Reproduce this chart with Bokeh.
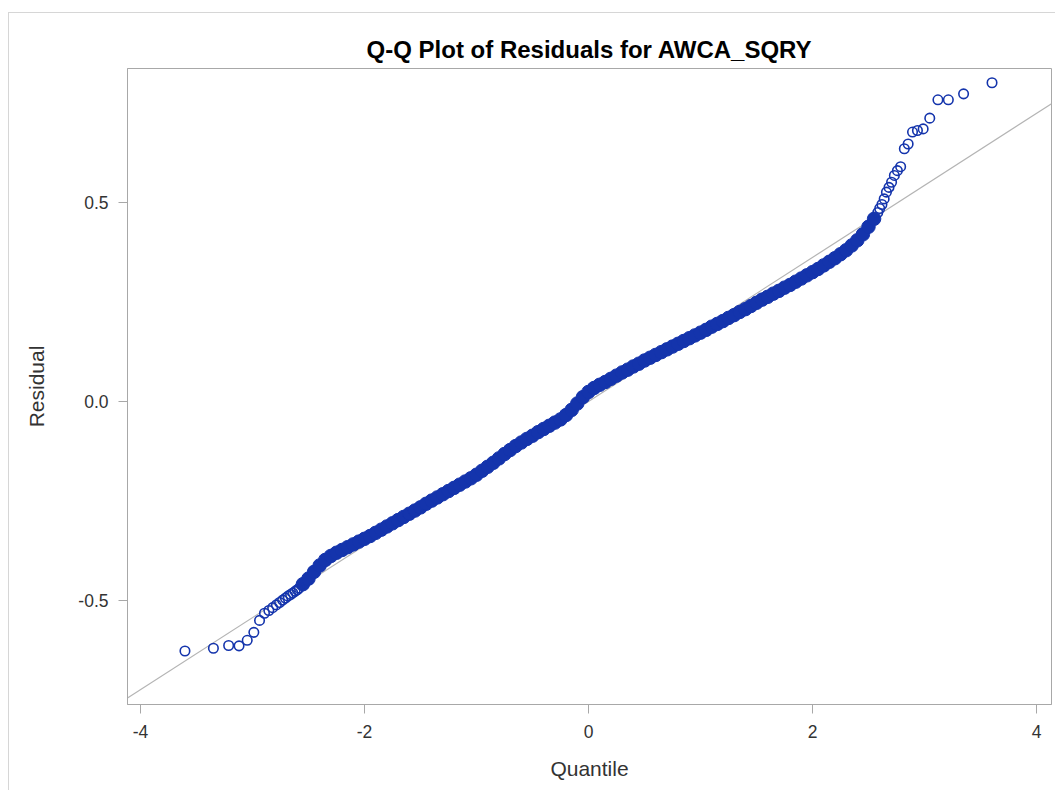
from bokeh.plotting import figure
from bokeh.models import Range1d, FixedTicker
from bokeh.embed import file_html
from bokeh.resources import INLINE

title_text = "Q-Q Plot of Residuals for AWCA_SQRY"
x_label = "Quantile"
y_label = "Residual"
x_ticks = [-4, -2, 0, 2, 4]
x_tick_labels = ["-4", "-2", "0", "2", "4"]
y_ticks = [-0.5, 0.0, 0.5]
y_tick_labels = ["-0.5", "0.0", "0.5"]

# normal reference line: residual = intercept + slope * quantile
ref_intercept = 0.0
ref_slope = 0.181

# lower tail, individually visible points
low_q = [-3.603, -3.349, -3.213, -3.120, -3.047, -2.988, -2.937, -2.893, -2.854, -2.820,
         -2.787, -2.758, -2.731, -2.706, -2.683, -2.660, -2.640, -2.620, -2.600, -2.583]
low_r = [-0.627, -0.620, -0.613, -0.614, -0.600, -0.580, -0.550, -0.532, -0.525, -0.518,
         -0.511, -0.505, -0.499, -0.494, -0.489, -0.485, -0.481, -0.477, -0.473, -0.469]

# dense body of the sample (read along the band)
body_q = [-2.55, -2.50, -2.45, -2.40, -2.35, -2.30, -2.25, -2.20, -2.15, -2.10,
          -2.05, -2.00, -1.95, -1.90, -1.85, -1.80, -1.75, -1.70, -1.65, -1.60,
          -1.55, -1.50, -1.45, -1.40, -1.35, -1.30, -1.25, -1.20, -1.15, -1.10,
          -1.05, -1.00, -0.95, -0.90, -0.85, -0.80, -0.75, -0.70, -0.65, -0.60,
          -0.55, -0.50, -0.45, -0.40, -0.35, -0.30, -0.25, -0.20, -0.15, -0.10,
          -0.05, 0.00, 0.05, 0.10, 0.15, 0.20, 0.25, 0.30, 0.35, 0.40,
          0.45, 0.50, 0.55, 0.60, 0.65, 0.70, 0.75, 0.80, 0.85, 0.90,
          0.95, 1.00, 1.05, 1.10, 1.15, 1.20, 1.25, 1.30, 1.35, 1.40,
          1.45, 1.50, 1.55, 1.60, 1.65, 1.70, 1.75, 1.80, 1.85, 1.90,
          1.95, 2.00, 2.05, 2.10, 2.15, 2.20, 2.25, 2.30, 2.35, 2.40,
          2.45, 2.50, 2.55]
body_r = [-0.459, -0.445, -0.428, -0.412, -0.398, -0.388, -0.380, -0.373, -0.366, -0.359,
          -0.352, -0.345, -0.338, -0.330, -0.322, -0.314, -0.306, -0.298, -0.290, -0.282,
          -0.274, -0.266, -0.257, -0.249, -0.241, -0.233, -0.225, -0.217, -0.209, -0.201,
          -0.193, -0.184, -0.174, -0.164, -0.154, -0.143, -0.132, -0.122, -0.112, -0.103,
          -0.094, -0.086, -0.077, -0.069, -0.061, -0.053, -0.045, -0.034, -0.021, -0.005,
          0.011, 0.024, 0.034, 0.042, 0.049, 0.057, 0.065, 0.073, 0.080, 0.088,
          0.095, 0.103, 0.110, 0.117, 0.124, 0.131, 0.138, 0.145, 0.152, 0.159,
          0.166, 0.173, 0.180, 0.188, 0.195, 0.202, 0.210, 0.217, 0.225, 0.232,
          0.240, 0.248, 0.256, 0.263, 0.271, 0.278, 0.286, 0.293, 0.301, 0.309,
          0.317, 0.325, 0.333, 0.342, 0.351, 0.360, 0.370, 0.380, 0.392, 0.405,
          0.420, 0.439, 0.459]

# upper tail, individually visible points
up_q = [2.583, 2.600, 2.620, 2.640, 2.660, 2.683, 2.706, 2.731, 2.758, 2.787,
        2.820, 2.854, 2.893, 2.937, 2.988, 3.047, 3.120, 3.213, 3.349, 3.603]
up_r = [0.475, 0.485, 0.495, 0.509, 0.526, 0.538, 0.551, 0.568, 0.580, 0.590,
        0.635, 0.647, 0.677, 0.681, 0.685, 0.712, 0.758, 0.758, 0.773, 0.801]

MARK = "#1434AC"
GRAY = "#a8a8a8"
TXT = "#333333"
FONT = "Liberation Sans"

x0, x1 = -4.116, 4.134
y0, y1 = -0.7613, 0.8367

p = figure(width=1047, height=778, output_backend="svg", toolbar_location=None,
           x_range=Range1d(x0, x1), y_range=Range1d(y0, y1),
           min_border_left=118, min_border_right=5, min_border_top=55, min_border_bottom=87)
p.margin = (12, 0, 0, 8)
p.styles = {"border-left": "1px solid #d6d6d6", "border-top": "1px solid #d6d6d6"}
p.background_fill_color = "white"
p.border_fill_color = "white"
p.outline_line_color = GRAY
p.outline_line_width = 1
p.xgrid.visible = False
p.ygrid.visible = False

p.title.text = title_text
p.title.align = "center"
p.title.text_font = FONT
p.title.text_font_size = "24px"
p.title.text_font_style = "bold"
p.title.text_color = "#000000"
p.title.standoff = 12

for ax in (p.xaxis[0], p.yaxis[0]):
    ax.axis_line_color = GRAY
    ax.major_tick_line_color = GRAY
    ax.minor_tick_line_color = None
    ax.major_tick_in = 0
    ax.major_tick_out = 9
    ax.major_label_text_font = FONT
    ax.major_label_text_font_size = "17.5px"
    ax.major_label_text_color = TXT
    ax.axis_label_text_font = FONT
    ax.axis_label_text_font_size = "21px"
    ax.axis_label_text_font_style = "normal"
    ax.axis_label_text_color = TXT

p.xaxis.ticker = FixedTicker(ticks=x_ticks)
p.xaxis.major_label_overrides = {t: s for t, s in zip(x_ticks, x_tick_labels)}
p.yaxis.ticker = FixedTicker(ticks=y_ticks)
p.yaxis.major_label_overrides = {t: s for t, s in zip(y_ticks, y_tick_labels)}
p.xaxis.axis_label = x_label
p.yaxis.axis_label = y_label
p.xaxis.major_label_standoff = 11
p.yaxis.major_label_standoff = 10
p.xaxis.axis_label_standoff = 16
p.yaxis.axis_label_standoff = 27

# reference line
p.line(x=[x0, x1], y=[ref_intercept + ref_slope * x0, ref_intercept + ref_slope * x1],
       line_color="#b4b4b4", line_width=1.2)

# dense body
p.scatter(body_q, body_r, marker="circle", size=13.5, fill_color=MARK, line_color=MARK,
          line_width=1)
# tails
p.scatter(low_q + up_q, low_r + up_r, marker="circle", size=9.5, fill_color=None,
          line_color=MARK, line_width=1.6)

open("out.html", "w").write(file_html(p, INLINE))
